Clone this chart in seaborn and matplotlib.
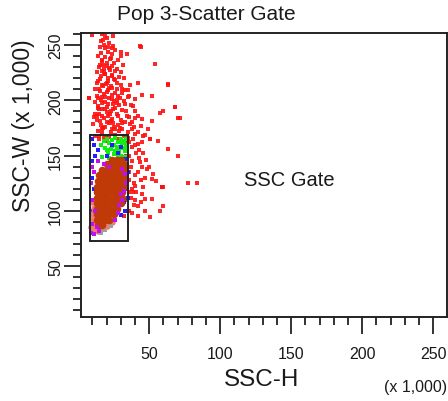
import matplotlib
matplotlib.use("Agg")
import matplotlib.pyplot as plt
import seaborn as sns
import pandas as pd
from matplotlib.patches import Rectangle
from matplotlib.ticker import MultipleLocator

sns.set_theme(style="white")
plt.rcParams['font.family'] = ['Liberation Sans', 'DejaVu Sans']

# ---------------- data (x 1,000) ----------------
red_x = [9.5, 16.6, 18.9, 24.8, 17.8, 15.4, 18.9, 24.8, 26.0, 23.6, 30.0, 30.0, 34.7, 44.0,
         16.6, 17.8, 20.1, 23.6, 31.4, 22.5, 16.6, 26.0, 18.9, 32.3, 23.6, 15.4, 21.3, 13.0,
         27.1, 36.5, 42.4, 63.6, 17.8, 23.6, 30.7, 35.4, 15.4, 20.1, 26.0, 44.8, 51.8, 7.9,
         14.2, 18.9, 23.6, 29.5, 36.1, 40.1, 16.6, 21.3, 27.1, 33.0, 38.9, 68.3, 14.2, 18.9,
         24.8, 30.7, 57.7, 60.0, 71.8, 11.9, 16.6, 22.5, 28.3, 34.2, 40.1, 44.8, 51.8, 15.4,
         20.1, 24.8, 30.7, 36.5, 10.7, 17.8, 23.6, 29.5, 37.7, 49.5, 46.0, 50.6, 40.1, 35.4,
         14, 16, 19, 21, 23, 17, 20, 15, 18, 22, 25, 13, 16, 19, 21, 24, 27, 14, 17, 20, 23,
         26, 29, 15, 18, 21, 24, 27, 13, 16, 19, 22, 25, 28, 31, 14, 17, 20, 23, 26, 29, 32,
         15, 18, 21, 24, 27, 30, 13, 16, 19, 22, 25, 28, 31, 33, 14, 17, 20, 23, 26, 29, 32,
         35, 15, 19, 24, 28, 33, 12, 18, 22, 20, 16, 24, 12, 11, 34, 36, 38, 30, 33, 35, 37,
         40, 42, 39, 42, 44, 47, 28, 30, 12,
         38.9, 42.4, 44.8, 50.7, 56.5, 63.6, 70.0, 43.6, 42.4, 48.3, 51.8, 46.0, 44.8, 58.9,
         77.0, 84.0, 51.8, 47.1, 60.0, 57.7, 42.4, 50.6, 38.9, 40.1, 59.0, 60.0, 68.0, 70.0,
         63.0, 54.0, 43.5, 7.6,
         36, 38, 37, 40, 36, 38, 37, 39, 36, 41, 43, 38, 36, 45, 47, 40, 42, 36, 39, 44, 36,
         41, 38, 43, 40, 46, 48, 50, 53, 55, 44, 47, 34, 33, 31, 29, 26, 22, 18, 15, 34, 32,
         15.5, 18.5, 21.5, 24.5, 17, 20, 23, 26, 14.5, 19.5, 22.5, 25.5, 16.5, 21, 27.5, 13.5]
red_y = [259.4, 260.0, 257.9, 258.5, 254.9, 248.3, 247.4, 249.5, 245.8, 242.2, 243.4, 240.4,
         242.2, 248.3, 235.3, 232.3, 230.8, 231.4, 232.3, 227.8, 226.3, 226.3, 223.3, 220.3,
         221.8, 218.8, 217.3, 215.7, 215.7, 214.2, 215.7, 213.6, 212.7, 211.2, 210.3, 209.7,
         208.2, 207.3, 206.7, 205.2, 204.3, 202.2, 202.2, 203.1, 201.3, 202.2, 204.3, 200.7,
         197.7, 196.2, 197.7, 196.2, 194.7, 194.1, 193.2, 191.7, 192.3, 191.1, 188.7, 190.2,
         184.1, 187.2, 186.2, 187.2, 185.6, 186.2, 184.1, 183.2, 181.1, 181.1, 180.2, 179.6,
         179.0, 178.1, 178.1, 175.1, 174.2, 175.1, 173.6, 173.6, 167.6, 165.2, 169.1, 166.1,
         240, 243, 239, 244, 238, 236, 234, 230, 228, 229, 234, 226, 222, 224, 220, 223, 228,
         217, 214, 216, 213, 218, 221, 210, 206, 209, 205, 210, 204, 200, 198, 202, 199, 204,
         207, 195, 192, 194, 190, 193, 196, 199, 188, 184, 186, 183, 188, 182, 182, 178, 176,
         179, 176, 178, 174, 180, 172, 170, 168, 171, 169, 172, 168, 171, 165, 163, 164, 162,
         163, 168, 250, 252, 256, 254, 247, 198, 185, 190, 185, 180, 214, 209, 203, 196, 190,
         186, 176, 171, 177, 169, 236, 226, 210,
         165.1, 160.6, 162.1, 165.1, 163.6, 156.0, 150.0, 144.0, 135.0, 138.0, 129.0, 121.4,
         115.4, 121.4, 125.2, 125.2, 110.9, 110.9, 104.7, 100.3, 95.8, 94.3, 116.9, 122.9,
         121.6, 121.6, 194.0, 184.0, 215.0, 233.0, 249.0, 202.0,
         150, 145, 140, 132, 128, 120, 112, 105, 100, 152, 148, 158, 162, 140, 130, 110, 104,
         135, 125, 128, 117, 117, 98, 155, 160, 152, 146, 140, 133, 127, 108, 100, 150, 122,
         138, 165, 168, 167, 166, 168, 110, 95,
         232, 226, 211, 197, 203, 189, 181, 174, 192, 215, 237, 219, 174, 248, 200, 186]

green_x = [16, 18, 20, 22, 24, 26, 28, 30, 32, 34, 19, 23, 27, 31, 33, 21, 25, 29, 33, 17,
           23, 27, 31, 34, 29, 32, 34, 20, 26, 30, 24, 28, 34, 31, 22, 26, 33, 30, 28, 25]
green_y = [160, 163, 165, 161, 164, 166, 162, 165, 163, 160, 157, 156, 158, 157, 154, 152,
           151, 153, 149, 149, 146, 147, 145, 142, 140, 137, 132, 155, 154, 150, 159, 156,
           165, 161, 148, 143, 157, 146, 150, 160]

blue_x = [10, 11, 12, 14, 20, 28, 33, 34, 35, 33, 34, 35, 32, 33, 30, 10, 11, 9, 10, 24, 30]
blue_y = [165, 160, 150, 155, 150, 152, 147, 140, 135, 128, 120, 112, 108, 100, 96, 130, 120,
          100, 145, 160, 158]

purple_x = [10, 11, 9, 10, 12, 10, 9, 11, 31, 33, 30, 32, 29, 31, 34, 26, 28, 14, 18, 22,
            15, 13]
purple_y = [140, 135, 125, 110, 100, 88, 80, 79, 138, 133, 115, 118, 105, 110, 125, 92, 98,
            145, 142, 140, 82, 85]

salmon_x = [10, 12, 14, 16, 18, 11, 13, 15, 17, 19, 10, 12, 14, 16, 21, 10, 12, 14, 18, 11,
            13, 10, 22, 20, 24, 9]
salmon_y = [82, 83, 82, 84, 85, 87, 88, 87, 89, 90, 92, 93, 92, 94, 92, 97, 99, 98, 96, 103,
            105, 108, 88, 86, 90, 85]

gray_x = [19, 23, 25, 27, 16, 21]
gray_y = [83, 86, 94, 100, 80, 97]

core_x = [14, 17,
          13, 16, 19, 22,
          13, 16, 19, 22, 25,
          13, 16, 19, 22, 25, 27,
          13, 16, 19, 22, 25, 28, 30,
          13, 16, 19, 22, 25, 28, 31,
          13, 16, 19, 22, 25, 28, 31,
          13, 16, 19, 22, 25, 28, 31, 32,
          14, 17, 20, 23, 26, 29, 32,
          15, 18, 21, 24, 27, 30, 32,
          17, 20, 23, 26, 29, 32,
          20, 23, 26, 29, 32,
          24, 27, 30]
core_y = [87, 87,
          92, 92, 92, 92,
          97, 97, 97, 97, 97,
          102, 102, 102, 102, 102, 102,
          107, 107, 107, 107, 107, 107, 107,
          112, 112, 112, 112, 112, 112, 112,
          117, 117, 117, 117, 117, 117, 117,
          122, 122, 122, 122, 122, 122, 122, 122,
          127, 127, 127, 127, 127, 127, 127,
          132, 132, 132, 132, 132, 132, 132,
          137, 137, 137, 137, 137, 137,
          142, 142, 142, 142, 142,
          146, 146, 146]

gate_x = [8.3, 35.0]
gate_y = [72.8, 168.6]
gate_label = "SSC Gate"
gate_label_pos = [149, 128]

x_major = [50, 100, 150, 200, 250]
y_major = [50, 100, 150, 200, 250]

# ---------------- figure ----------------
W, H = 448, 402
fig = plt.figure(figsize=(W / 100, H / 100), dpi=100)
ax = fig.add_axes([81 / W, 1 - 318 / H, 366 / W, 284 / H])
ax.set_facecolor("white")

def pts(xs, ys):
    return pd.DataFrame({"x": xs, "y": ys})

sns.scatterplot(data=pts(red_x, red_y), x="x", y="y", ax=ax, color="#ff1010",
                marker="s", s=6, linewidth=0, alpha=0.9)
sns.scatterplot(data=pts(green_x, green_y), x="x", y="y", ax=ax, color="#10f010",
                marker="s", s=9, linewidth=0)
sns.scatterplot(data=pts(blue_x, blue_y), x="x", y="y", ax=ax, color="#2020ff",
                marker="s", s=5, linewidth=0)
sns.scatterplot(data=pts(salmon_x, salmon_y), x="x", y="y", ax=ax, color="#f07a6c",
                marker="o", s=22, linewidth=0)
sns.scatterplot(data=pts(gray_x, gray_y), x="x", y="y", ax=ax, color="#a0a0a0",
                marker="s", s=5, linewidth=0)
sns.scatterplot(data=pts(core_x, core_y), x="x", y="y", ax=ax, color="#c03a08",
                marker="o", s=30, linewidth=0)
sns.scatterplot(data=pts(purple_x, purple_y), x="x", y="y", ax=ax, color="#c010f0",
                marker="s", s=5, linewidth=0)

ax.add_patch(Rectangle((gate_x[0], gate_y[0]), gate_x[1] - gate_x[0], gate_y[1] - gate_y[0],
                       fill=False, edgecolor="#222222", linewidth=1.4, zorder=5))
ax.text(gate_label_pos[0], gate_label_pos[1], gate_label, fontsize=14.5, color="#1a1a1a",
        ha="center", va="center")

ax.set_xlim(2, 259.7)
ax.set_ylim(4.1, 260.8)
ax.set_xticks(x_major)
ax.set_yticks(y_major)
ax.xaxis.set_minor_locator(MultipleLocator(10))
ax.yaxis.set_minor_locator(MultipleLocator(10))
ax.set_xlabel("")
ax.set_ylabel("")

for sp in ax.spines.values():
    sp.set_visible(True)
    sp.set_color("#222222")
    sp.set_linewidth(1.4)

ax.tick_params(axis="both", which="major", direction="out", length=12, width=1.3,
               color="#222222", labelsize=11.5, labelcolor="#1a1a1a")
ax.tick_params(axis="both", which="minor", direction="out", length=6, width=1.3,
               color="#222222")
ax.tick_params(axis="x", which="major", pad=9, bottom=True)
ax.tick_params(axis="x", which="minor", bottom=True)
ax.tick_params(axis="y", which="major", pad=1, left=True)
ax.tick_params(axis="y", which="minor", left=True)
for lab in ax.get_yticklabels():
    lab.set_rotation(90)
    lab.set_va("center")

fig.text(206 / W, 1 - 14 / H, "Pop 3-Scatter Gate", fontsize=15, color="#1a1a1a",
         ha="center", va="center")
fig.text(262 / W, 1 - 380 / H, "SSC-H", fontsize=17.5, color="#1a1a1a",
         ha="center", va="center")
fig.text(447 / W, 1 - 388 / H, "(x 1,000)", fontsize=11.5, color="#1a1a1a",
         ha="right", va="center")
fig.text(24 / W, 1 - 126 / H, "SSC-W (x 1,000)", fontsize=16.5, color="#1a1a1a",
         ha="center", va="center", rotation=90)

fig.savefig("out.png", dpi=100, facecolor="white")
